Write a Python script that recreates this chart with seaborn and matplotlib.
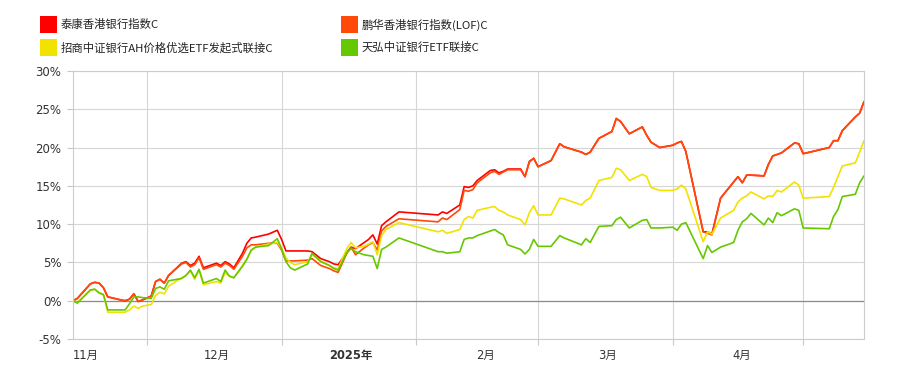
import matplotlib

matplotlib.use("Agg")
import matplotlib.pyplot as plt
import numpy as np
import pandas as pd
import seaborn as sns
from matplotlib.patches import Rectangle
from matplotlib.ticker import FuncFormatter

# trading days shown on the chart, grouped by month
NOV = [14, 15, 18, 19, 20, 21, 22, 25, 26, 27, 28, 29, 30]
DEC = [2, 3, 4, 5, 6, 9, 10, 11, 12, 13, 14, 17, 18, 19, 20, 21, 23, 24, 25, 26, 29, 31]
JAN = [1, 2, 3, 4, 7, 8, 10, 12, 13, 14, 16, 17, 18, 20, 21, 22, 23, 24, 25, 28]
FEB = [6, 7, 8, 11, 12, 13, 14, 15, 18, 19, 20, 21, 22, 25, 26, 27, 28]
MAR = [1, 4, 6, 7, 11, 12, 13, 15, 18, 19, 20, 22, 25, 26, 27, 29]
APR = [1, 2, 3, 4, 8, 9, 10, 12, 15, 16, 17, 18, 19, 22, 23, 24, 25, 26, 29, 30]
MAY = [1, 7, 8, 9, 10, 13, 14, 15]

# cumulative return, %
taikang = [0, 0.3, 2.2, 2.4, 2.3, 1.7, 0.5, 0.1, 0.0, 0.2, 0.9, -0.1, 0.1,
           0.6, 2.5, 2.8, 2.3, 3.3, 4.9, 5.1, 4.6, 4.9, 5.8, 4.3, 4.9, 4.6, 5.1, 4.8, 4.3, 6.2, 7.5, 8.2, 8.3, 8.7, 9.2,
           8.0, 6.5, 6.5, 6.5, 6.5, 6.4, 5.5, 5.1, 4.8, 4.7, 6.3, 7.0, 6.8, 7.6, 8.0, 8.6, 7.4, 9.8, 10.3, 11.6,
           11.2, 11.6, 11.4, 12.5, 14.9, 14.8, 15.0, 15.7, 17.0, 17.1, 16.7, 16.9, 17.2, 17.2, 16.2, 18.2, 18.6,
           17.5, 18.3, 20.5, 20.1, 19.4, 19.1, 19.4, 21.2, 22.1, 23.8, 23.4, 21.8, 22.7, 21.6, 20.7, 20.0,
           20.3, 20.6, 20.8, 19.5, 9.0, 9.0, 8.7, 13.4, 15.5, 16.2, 15.4, 16.4, 16.4, 16.3, 17.8, 18.9, 19.1, 19.3, 20.6, 20.5,
           19.2, 20.0, 20.9, 20.9, 22.2, 24.0, 24.5, 26.0]
penghua = [0, 0.3, 2.2, 2.4, 2.3, 1.7, 0.5, 0.1, 0.0, 0.2, 0.9, -0.1, 0.1,
           0.6, 2.5, 2.8, 2.3, 3.3, 4.8, 5.0, 4.4, 4.7, 5.6, 4.1, 4.7, 4.4, 4.9, 4.6, 4.1, 5.8, 6.9, 7.3, 7.3, 7.5, 7.5,
           6.6, 5.2, 5.2, 5.2, 5.3, 5.5, 4.6, 4.2, 3.9, 3.7, 6.2, 7.0, 6.0, 6.9, 7.3, 7.6, 6.6, 9.1, 9.7, 10.7,
           10.3, 10.8, 10.6, 11.9, 14.4, 14.3, 14.5, 15.4, 16.7, 16.9, 16.5, 16.8, 17.1, 17.1, 16.2, 18.1, 18.6,
           17.5, 18.3, 20.5, 20.1, 19.4, 19.1, 19.4, 21.2, 22.1, 23.8, 23.4, 21.8, 22.7, 21.6, 20.7, 20.0,
           20.3, 20.6, 20.8, 19.5, 9.0, 8.8, 8.6, 13.4, 15.5, 16.2, 15.4, 16.4, 16.4, 16.3, 17.8, 18.9, 19.1, 19.3, 20.6, 20.5,
           19.2, 20.0, 20.9, 20.9, 22.2, 24.0, 24.5, 26.0]
zhaoshang = [0, -0.3, 1.4, 1.5, 1.1, 0.8, -1.5, -1.5, -1.5, -1.2, -0.7, -1.0, -0.7,
             -0.5, 0.7, 1.1, 0.9, 1.9, 3.0, 3.3, 3.9, 2.8, 4.0, 2.1, 2.5, 2.3, 3.7, 3.2, 3.0, 4.6, 5.5, 6.6, 7.0, 7.4, 7.6,
             6.8, 5.6, 5.0, 4.7, 5.1, 6.0, 5.2, 4.6, 4.3, 4.2, 6.8, 7.6, 6.9, 7.1, 7.4, 7.7, 6.0, 8.5, 9.3, 10.2,
             9.0, 9.2, 8.8, 9.3, 10.6, 11.0, 10.8, 11.8, 12.2, 12.3, 11.8, 11.6, 11.2, 10.6, 9.9, 11.5, 12.4,
             11.2, 11.2, 13.4, 13.3, 12.5, 13.1, 13.4, 15.7, 16.1, 17.3, 17.1, 15.7, 16.5, 16.2, 14.8, 14.4,
             14.4, 14.6, 15.1, 14.6, 7.7, 9.0, 8.7, 10.8, 11.8, 12.9, 13.4, 13.7, 14.2, 13.3, 13.7, 13.6, 14.4, 14.2, 15.5, 15.1,
             13.4, 13.6, 14.8, 16.2, 17.6, 18.0, 19.4, 20.9]
tianhong = [0, -0.3, 1.4, 1.5, 1.0, 0.8, -1.2, -1.2, -1.2, -0.4, 0.5, 0.5, 0.4,
            0.3, 1.6, 1.8, 1.5, 2.6, 2.9, 3.3, 4.0, 3.0, 4.1, 2.3, 2.9, 2.5, 4.0, 3.2, 3.0, 4.5, 5.4, 6.6, 7.0, 7.2, 8.1,
            6.8, 5.1, 4.3, 4.0, 4.8, 6.2, 5.1, 4.6, 4.2, 4.0, 6.3, 6.8, 6.4, 6.0, 5.9, 5.8, 4.2, 6.7, 7.0, 8.2,
            6.4, 6.4, 6.2, 6.4, 8.0, 8.2, 8.2, 8.5, 9.1, 9.3, 8.9, 8.6, 7.3, 6.7, 6.1, 6.7, 8.0,
            7.1, 7.1, 8.5, 8.2, 7.3, 8.1, 7.6, 9.7, 9.8, 10.6, 10.9, 9.5, 10.5, 10.6, 9.5, 9.5,
            9.6, 9.2, 10.0, 10.2, 5.5, 7.2, 6.3, 7.0, 7.6, 9.2, 10.3, 10.7, 11.4, 9.9, 10.8, 10.2, 11.5, 11.1, 12.0, 11.8,
            9.5, 9.4, 11.0, 11.9, 13.6, 13.9, 15.4, 16.3]

FUNDS = ["泰康香港银行指数C", "鹏华香港银行指数(LOF)C",
         "招商中证银行AH价格优选ETF发起式联接C", "天弘中证银行ETF联接C"]
COLORS = ["#FF0000", "#FF4A0A", "#F2E200", "#66C800"]

MONTH_STARTS = ["2024-12-01", "2025-01-01", "2025-02-01", "2025-03-01", "2025-04-01", "2025-05-01"]
MONTH_MIDS = ["2024-11-17", "2024-12-17", "2025-01-17", "2025-02-17", "2025-03-17", "2025-04-17"]
MONTH_LABELS = ["11月", "12月", "2025年", "2月", "3月", "4月"]


def _dates():
    out = []
    for (y, m), days in zip([(2024, 11), (2024, 12), (2025, 1), (2025, 2),
                             (2025, 3), (2025, 4), (2025, 5)],
                            [NOV, DEC, JAN, FEB, MAR, APR, MAY]):
        out += [pd.Timestamp(y, m, d) for d in days]
    return out


dates = _dates()
frames = []
for name, vals in zip(FUNDS, [taikang, penghua, zhaoshang, tianhong]):
    assert len(vals) == len(dates), (name, len(vals), len(dates))
    frames.append(pd.DataFrame({"date": dates, "value": vals, "fund": name}))
df = pd.concat(frames, ignore_index=True)

sns.set_theme(style="white")
plt.rcParams["font.family"] = ["DejaVu Sans", "Noto Sans CJK SC"]

W, H = 907, 376
fig = plt.figure(figsize=(W / 100, H / 100), dpi=100)
ax = fig.add_axes([73 / W, 1 - 339 / H, (864 - 73) / W, (339 - 71) / H])

sns.lineplot(data=df, x="date", y="value", hue="fund", hue_order=FUNDS,
             palette=COLORS, legend=False, errorbar=None, linewidth=1.2, ax=ax)

ax.set_xlim(pd.Timestamp("2024-11-14"), pd.Timestamp("2025-05-15"))
ax.set_ylim(-5, 30)
ax.set_yticks(np.arange(-5, 31, 5))
ax.yaxis.set_major_formatter(FuncFormatter(lambda v, _: f"{v:.0f}%"))
ax.set_xticks(pd.to_datetime(MONTH_STARTS))
ax.set_xticklabels([""] * len(MONTH_STARTS))
ax.set_xticks(pd.to_datetime(MONTH_MIDS), minor=True)
ax.set_xticklabels(MONTH_LABELS, minor=True)
for t in ax.get_xticklabels(minor=True):
    if t.get_text() == "2025年":
        t.set_fontweight("bold")

ax.set_axisbelow(True)
ax.grid(True, which="major", color="#d6d6d6", linewidth=0.8)
ax.axhline(0, color="#8c8c8c", linewidth=0.9, zorder=1.5)

ax.tick_params(axis="y", length=4.3, width=0.8, color="#c8c8c8",
               labelsize=8.5, labelcolor="#333333", pad=4, left=True)
ax.tick_params(axis="x", which="major", length=4.3, width=0.8, color="#c8c8c8",
               bottom=True)
ax.tick_params(axis="x", which="minor", length=0, pad=7,
               labelsize=8.3, labelcolor="#333333")
for s in ax.spines.values():
    s.set_color("#cccccc")
    s.set_linewidth(0.8)
ax.set_xlabel("")
ax.set_ylabel("")

# legend: colour squares with fund names, two columns
for i, (name, c) in enumerate(zip(FUNDS, COLORS)):
    col, row = (0, 0) if i == 0 else (1, 0) if i == 1 else (0, 1) if i == 2 else (1, 1)
    x0 = 40 if col == 0 else 341
    y0 = 16 + row * 23
    fig.patches.append(Rectangle((x0 / W, 1 - (y0 + 17) / H), 17 / W, 17 / H,
                                 transform=fig.transFigure, facecolor=c,
                                 edgecolor="none"))
    fig.text((x0 + 21) / W, 1 - (y0 + 8.5) / H, name, fontsize=8.2,
             color="#222222", va="center", ha="left",
             family=["Noto Sans CJK SC", "DejaVu Sans"])

fig.savefig("out.png", dpi=100, facecolor="white")
plt.close(fig)
